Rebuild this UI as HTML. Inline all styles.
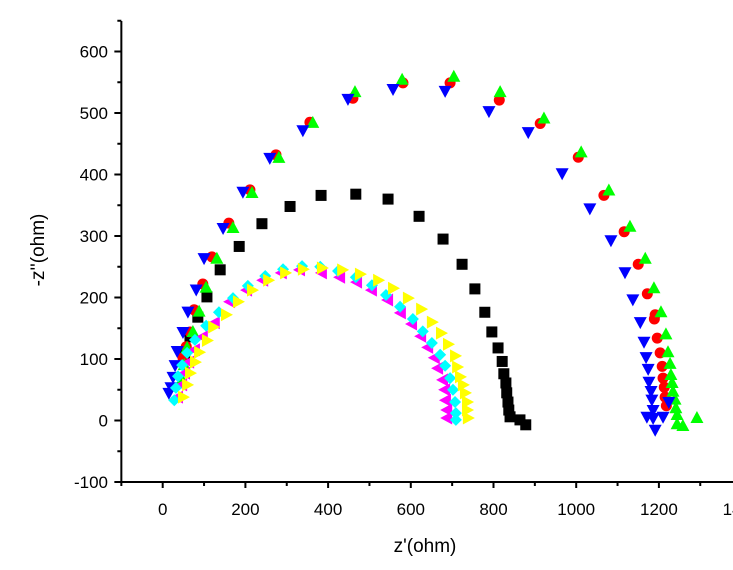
<!DOCTYPE html>
<html><head><meta charset="utf-8"><style>
html,body{margin:0;padding:0;background:#fff;}
svg{display:block;font-family:"Liberation Sans",Arial,sans-serif;}
</style></head><body>
<svg id="chart" width="733" height="570" viewBox="0 0 733 570" xmlns="http://www.w3.org/2000/svg">
<g id="marks"></g>
<g id="axes"></g>
<text x="425" y="552" font-size="19" text-anchor="middle">z'(ohm)</text>
<text transform="translate(44,250) rotate(-90)" font-size="19" text-anchor="middle">-z''(ohm)</text>
</svg>
<script>
const xTicks=[-100,0,100,200,300,400,500,600,700,800,900,1000,1100,1200,1300,1400];
const xLabels=["0","200","400","600","800","1000","1200","1400"];
const yTicks=[-100,-50,0,50,100,150,200,250,300,350,400,450,500,550,600,650];
const yLabels=["-100","0","100","200","300","400","500","600"];

const blackX=[54,66,85,107,139,185,240,308,383,467,545,620,678,724,755,779,796,811,821,825,830,832,835,837,840,864,878];
const blackY=[107,136,168,201,245,283,320,348,366,368,360,332,295,254,214,176,144,118,96,76,61,45,30,17,6,1,-7];

const redX=[49,57,66,76,97,119,160,211,274,356,460,581,695,814,913,1005,1067,1116,1150,1172,1191,1189,1196,1203,1208,1210,1213,1215,1218];
const redY=[102,120,144,180,222,266,321,375,432,485,524,549,549,521,483,428,366,307,254,206,172,165,134,110,88,69,54,38,24];

const greenX=[47,52,59,73,88,105,131,170,216,281,363,465,579,704,816,922,1012,1079,1130,1167,1188,1205,1217,1222,1227,1229,1232,1234,1239,1241,1244,1244,1258,1292];
const greenY=[66,90,118,144,177,216,263,313,370,427,484,534,554,559,534,491,436,374,315,263,215,176,140,111,92,74,61,47,34,20,9,-6,-9,4];

const blueX=[15,20,25,30,35,49,61,81,100,146,194,259,339,448,557,683,789,884,966,1033,1084,1118,1137,1155,1164,1169,1174,1176,1181,1183,1186,1186,1191,1224,1171,1210];
const blueY=[45,54,71,90,113,144,177,213,264,313,372,427,472,523,539,536,503,469,402,345,293,241,197,160,128,103,84,63,48,34,17,4,-15,30,6,6];

const magentaX=[37,47,54,64,78,97,126,163,204,243,288,332,385,429,470,506,545,576,603,625,642,658,666,678,683,685,688,688];
const magentaY=[38,58,77,95,115,136,159,193,212,228,240,245,240,233,225,212,196,175,157,137,119,102,85,66,50,33,17,4];

const cyanX=[28,32,37,47,59,78,105,136,170,206,248,291,337,381,424,467,506,540,574,605,629,651,671,683,695,702,707,709,709];
const cyanY=[33,53,72,90,110,131,154,176,199,219,235,246,251,250,243,233,220,204,185,165,145,126,107,89,69,50,30,12,1];

const yellowX=[49,59,66,78,88,107,122,153,182,216,255,296,339,385,434,477,521,557,593,625,651,673,690,707,712,719,726,731,736,736,738];
const yellowY=[38,58,77,95,111,130,152,172,193,212,228,240,246,248,245,238,228,215,199,181,160,142,124,105,87,71,58,45,30,17,4];

const NS="http://www.w3.org/2000/svg";
const X0=162.7, XS=0.4135, Y0=420.5, YS=0.615;
function sx(v){return X0+v*XS;}
function sy(v){return Y0-v*YS;}
const axes=document.getElementById('axes');
const marks=document.getElementById('marks');
function mk(tag,attrs,parent){const e=document.createElementNS(NS,tag);for(const k in attrs)e.setAttribute(k,attrs[k]);parent.appendChild(e);return e;}

const xAxisLine=mk('line',{x1:sx(-100),y1:sy(-100),x2:740,y2:sy(-100),stroke:'#000','stroke-width':2},axes);


const yAxisLine=mk('line',{x1:sx(-100),y1:sy(-100)+1,x2:sx(-100),y2:21,stroke:'#000','stroke-width':2},axes);



xTicks.forEach(v=>{
  const major=(v%200===0);
  const t=mk('line',{x1:sx(v),x2:sx(v),y1:sy(-100),y2:sy(-100)+(major?6:4),stroke:'#000','stroke-width':2},axes);
  
  
});
xLabels.forEach(s=>{
  const t=mk('text',{x:sx(+s),y:515,'font-size':17,'text-anchor':'middle'},axes);
  t.textContent=s;
  
  
});
yTicks.forEach(v=>{
  const major=(v%100===0);
  const t=mk('line',{x1:sx(-100),x2:sx(-100)-(major?7:4),y1:sy(v),y2:sy(v),stroke:'#000','stroke-width':2},axes);
  
  
});
yLabels.forEach(s=>{
  const t=mk('text',{x:108,y:sy(+s)+6,'font-size':17,'text-anchor':'end'},axes);
  t.textContent=s;
  
  
});

function marker(shape,cx,cy,color){
  let e;
  if(shape==='square'){e=mk('rect',{x:cx-5.5,y:cy-5.5,width:11,height:11,fill:color},marks);}
  else if(shape==='circle'){e=mk('circle',{cx:cx,cy:cy,r:5.5,fill:color},marks);}
  else{
    let p;
    if(shape==='up')p=[[cx,cy-7],[cx+6.5,cy+5],[cx-6.5,cy+5]];
    else if(shape==='down')p=[[cx-6.5,cy-5],[cx+6.5,cy-5],[cx,cy+7]];
    else if(shape==='left')p=[[cx-7,cy],[cx+5,cy-6.5],[cx+5,cy+6.5]];
    else if(shape==='right')p=[[cx+7,cy],[cx-5,cy-6.5],[cx-5,cy+6.5]];
    else p=[[cx,cy-6],[cx+6,cy],[cx,cy+6],[cx-6,cy]];
    e=mk('polygon',{points:p.map(q=>q.join(',')).join(' '),fill:color},marks);
  }
  return e;
}
function series(xs,ys,shape,color,name){
  xs.forEach((v,i)=>{
    const e=marker(shape,sx(v),sy(ys[i]),color);
    
    
  });
}
series(blackX,blackY,'square','#000000','black-square-point');
series(redX,redY,'circle','#ff0000','red-circle-point');
series(greenX,greenY,'up','#00ff00','green-triangle-point');
series(blueX,blueY,'down','#0000ff','blue-triangle-point');
series(magentaX,magentaY,'left','#ff00ff','magenta-triangle-point');
series(cyanX,cyanY,'diamond','#00ffff','cyan-diamond-point');
series(yellowX,yellowY,'right','#ffff00','yellow-triangle-point');
</script>
</body></html>
